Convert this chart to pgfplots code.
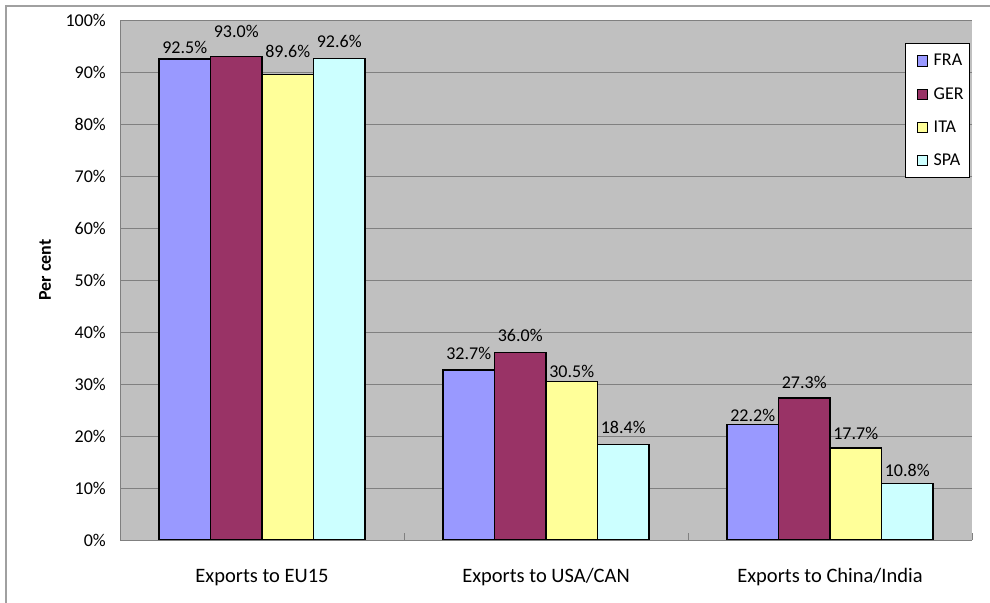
\documentclass[border=0pt]{standalone}
\usepackage{fontspec}
\setmainfont{Carlito}
\usepackage{pgfplots}
\usepackage{pgfplotstable}
\pgfplotsset{compat=1.18}

\definecolor{fra}{HTML}{9999FF}
\definecolor{ger}{HTML}{993366}
\definecolor{ita}{HTML}{FFFF99}
\definecolor{spa}{HTML}{CCFFFF}
\definecolor{plotgray}{HTML}{C0C0C0}
\definecolor{axisgray}{HTML}{808080}
\definecolor{framegray}{HTML}{A0A0A0}

% x: 0 = EU15, 1 = USA/CAN, 2 = China/India; off = label gap above bar (bp)
\pgfplotstableread{
x y off
0 92.5 5
1 32.7 10
2 22.2 3
}\fra
\pgfplotstableread{
x y off
0 93.0 19
1 36.0 11
2 27.3 10
}\ger
\pgfplotstableread{
x y off
0 89.6 17
1 30.5 4
2 17.7 8
}\ita
\pgfplotstableread{
x y off
0 92.6 11
1 18.4 11
2 10.8 7
}\spa

\begin{document}
\begin{tikzpicture}[font=\fontsize{18bp}{21bp}\selectfont]
\begin{axis}[
    at={(120bp,63bp)}, anchor=south west,
    scale only axis, width=852bp, height=520bp,
    ybar=0pt, bar width=51.5bp,
    xmin=-0.5, xmax=2.5, ymin=0, ymax=100,
    xtick={0,1,2},
    xticklabels={Exports to EU15, Exports to USA/CAN, Exports to China/India},
    minor xtick={-0.5,0.5,1.5,2.5},
    major x tick style={draw=none},
    minor x tick style={draw=axisgray, line width=0.8bp},
    minor tick length=7bp, tick align=inside,
    ytick={0,10,...,100},
    ytick style={draw=none},
    yticklabel={\pgfmathprintnumber{\tick}\%},
    /pgf/number format/assume math mode=true,
    yticklabel style={anchor=east, inner sep=0pt, xshift=-14bp},
    xticklabel style={anchor=base, inner sep=0pt, yshift=-42bp,
        font=\fontsize{20.5bp}{24bp}\selectfont},
    ymajorgrids, grid style={draw=axisgray, line width=0.8bp},
    axis x line*=bottom, axis y line*=left,
    axis line style={draw=axisgray, line width=0.8bp, -},
    axis background/.style={fill=plotgray},
    visualization depends on={\thisrow{off} \as \labeloff},
    nodes near coords={\pgfmathprintnumber[fixed,fixed zerofill,precision=1]{\pgfplotspointmeta}\%},
    every node near coord/.append style={anchor=base, inner sep=0pt, yshift=\labeloff bp},
    legend style={at={(rel axis cs:0.9977,0.956)}, anchor=north east,
        draw=black, fill=white, line width=0.8bp,
        inner xsep=3bp, inner ysep=8bp, row sep=14bp,
        nodes={inner sep=3bp},
        /tikz/every odd column/.append style={column sep=3bp}},
    legend cell align=left,
    legend image code/.code={\path (-8bp,0bp);
        \draw[#1, line width=0.6bp] (0bp,-5bp) rectangle (10bp,5bp);},
]
\addplot[fill=fra, draw=black, line width=1.1bp] table[x=x, y=y] {\fra};
\addplot[fill=ger, draw=black, line width=1.1bp] table[x=x, y=y] {\ger};
\addplot[fill=ita, draw=black, line width=1.1bp] table[x=x, y=y] {\ita};
\addplot[fill=spa, draw=black, line width=1.1bp] table[x=x, y=y] {\spa};
\legend{FRA,GER,ITA,SPA}
\end{axis}
\node[rotate=90, font=\fontsize{18bp}{21bp}\selectfont\bfseries] at (45bp,333bp) {Per cent};
\draw[framegray, line width=1.2bp] (6bp,-20bp) rectangle (1010bp,597bp);
\pgfresetboundingbox
\path[use as bounding box] (0,0) rectangle (990bp,603bp);
\end{tikzpicture}
\end{document}
